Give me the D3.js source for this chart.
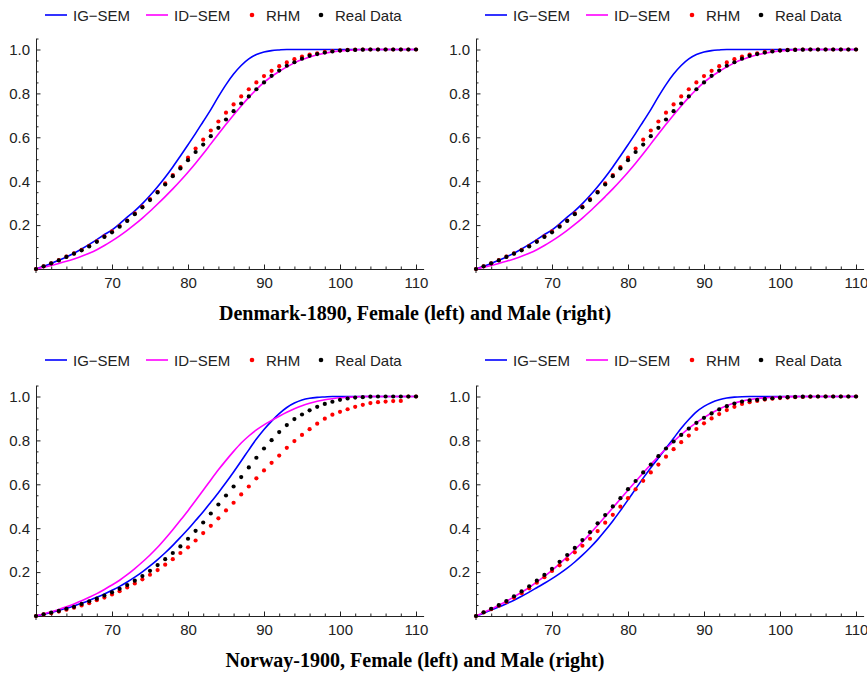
<!DOCTYPE html>
<html>
<head>
<meta charset="utf-8">
<script src="https://cdn.jsdelivr.net/npm/d3@7"></script>
<style>
  body { margin: 0; background: #fff; }
  svg { display: block; }
</style>
</head>
<body>
<svg id="chart" width="867" height="673"></svg>
<script>
// ages on the x axis, one point per year
const ages = d3.range(60, 111);
const xTicks = [70, 80, 90, 100, 110];
const yTicks = [0.2, 0.4, 0.6, 0.8, 1.0];
const legendNames = ["IG\u2212SEM", "ID\u2212SEM", "RHM", "Real Data"];
const captions = ["Denmark-1890, Female (left) and Male (right)", "Norway-1900, Female (left) and Male (right)"];

// Denmark 1890, female
const dkFemIG = [0, .012, .025, .040, .055, .072, .091, .112, .134, .157, .178, .206, .236, .265, .298, .335, .375, .418, .465, .515, .566, .618, .672, .726, .785, .84, .888, .927, .957, .977, .989, .995, .998, 1, 1, 1, 1, 1, 1, 1, 1, 1, 1, 1, 1, 1, 1, 1, 1, 1, 1];
const dkFemID = [0, .008, .016, .025, .035, .046, .058, .072, .088, .107, .128, .151, .176, .203, .232, .263, .296, .33, .365, .402, .441, .482, .525, .57, .615, .659, .702, .743, .782, .818, .85, .877, .90, .921, .939, .954, .966, .976, .983, .989, .993, .996, .998, 1, 1, 1, 1, 1, 1, 1, 1];
const dkFemRHM = [0, .012, .026, .040, .056, .071, .087, .105, .126, .149, .171, .196, .221, .253, .284, .318, .352, .390, .428, .464, .507, .549, .589, .631, .672, .712, .750, .786, .819, .850, .879, .903, .924, .941, .956, .968, .977, .983, .989, .993, .996, .998, .999, 1, 1, 1, 1, 1, 1, 1, 1];
const dkFemReal = [0, .012, .026, .039, .055, .070, .085, .103, .124, .146, .167, .193, .219, .250, .281, .314, .349, .385, .423, .458, .496, .533, .567, .605, .643, .681, .719, .754, .786, .819, .850, .880, .904, .926, .942, .958, .971, .979, .986, .991, .995, .997, .998, .999, 1, 1, 1, 1, 1, 1, 1];

// Denmark 1890, male
const dkMaleIG = [0, .012, .025, .040, .055, .072, .091, .112, .134, .157, .178, .206, .236, .265, .298, .335, .375, .418, .465, .515, .566, .618, .672, .726, .785, .84, .888, .927, .957, .977, .989, .995, .998, 1, 1, 1, 1, 1, 1, 1, 1, 1, 1, 1, 1, 1, 1, 1, 1, 1, 1];
const dkMaleID = [0, .008, .016, .025, .035, .046, .058, .072, .088, .107, .128, .151, .176, .203, .232, .263, .296, .33, .365, .402, .441, .482, .525, .57, .615, .659, .702, .743, .782, .818, .85, .877, .90, .921, .939, .954, .966, .976, .983, .989, .993, .996, .998, 1, 1, 1, 1, 1, 1, 1, 1];
const dkMaleRHM = [0, .012, .026, .040, .056, .071, .087, .105, .126, .149, .171, .196, .221, .253, .284, .318, .352, .390, .428, .464, .507, .549, .589, .631, .672, .712, .750, .786, .819, .850, .879, .903, .924, .941, .956, .968, .977, .983, .989, .993, .996, .998, .999, 1, 1, 1, 1, 1, 1, 1, 1];
const dkMaleReal = [0, .012, .026, .039, .055, .070, .085, .103, .124, .146, .167, .193, .219, .250, .281, .314, .349, .385, .423, .458, .496, .533, .567, .605, .643, .681, .719, .754, .786, .819, .850, .880, .904, .926, .942, .958, .971, .979, .986, .991, .995, .997, .998, .999, 1, 1, 1, 1, 1, 1, 1];

// Norway 1900, female
const noFemIG = [0, .008, .016, .025, .035, .046, .058, .071, .085, .10, .117, .135, .155, .177, .201, .228, .257, .288, .322, .358, .395, .435, .475, .518, .562, .608, .656, .706, .757, .806, .85, .888, .922, .95, .97, .984, .992, .996, .998, 1, 1, 1, 1, 1, 1, 1, 1, 1, 1, 1, 1];
const noFemID = [0, .009, .019, .03, .042, .055, .069, .085, .102, .121, .141, .163, .188, .216, .246, .278, .313, .352, .393, .436, .48, .526, .573, .62, .666, .709, .75, .788, .82, .848, .871, .891, .91, .928, .944, .958, .969, .978, .985, .99, .994, .996, .998, 1, 1, 1, 1, 1, 1, 1, 1];
const noFemRHM = [0, .007, .013, .02, .029, .038, .048, .058, .072, .084, .098, .113, .130, .148, .167, .188, .209, .234, .259, .287, .313, .344, .378, .411, .445, .481, .516, .554, .590, .627, .663, .698, .731, .766, .797, .825, .851, .876, .899, .917, .930, .942, .953, .962, .970, .974, .977, .979, .980, 1, 1];
const noFemReal = [0, .008, .015, .023, .033, .042, .055, .067, .079, .093, .108, .124, .141, .161, .182, .206, .232, .259, .287, .317, .352, .388, .426, .467, .508, .549, .590, .633, .677, .721, .763, .801, .838, .870, .897, .918, .937, .953, .966, .976, .985, .991, .995, .997, .999, 1, 1, 1, 1, 1, 1];

// Norway 1900, male
const noMaleIG = [0, .013, .027, .041, .056, .072, .09, .109, .129, .149, .17, .193, .218, .246, .277, .311, .348, .389, .433, .48, .529, .579, .628, .675, .72, .765, .81, .855, .895, .93, .955, .973, .985, .993, .997, .999, 1, 1, 1, 1, 1, 1, 1, 1, 1, 1, 1, 1, 1, 1, 1];
const noMaleID = [0, .016, .032, .049, .067, .087, .108, .13, .155, .181, .208, .238, .269, .302, .337, .374, .413, .453, .493, .533, .573, .613, .652, .69, .727, .762, .795, .826, .855, .881, .904, .925, .943, .958, .97, .979, .986, .991, .994, .996, .998, .999, 1, 1, 1, 1, 1, 1, 1, 1, 1];
const noMaleRHM = [0, .016, .031, .047, .064, .083, .104, .126, .152, .177, .205, .231, .258, .29, .32, .352, .387, .425, .461, .498, .537, .577, .616, .654, .69, .726, .76, .792, .822, .852, .878, .9, .92, .938, .953, .966, .974, .98, .986, .99, .993, .995, .997, .998, .999, 1, 1, 1, 1, 1, 1];
const noMaleReal = [0, .017, .033, .05, .068, .09, .112, .135, .161, .187, .215, .247, .278, .31, .346, .382, .422, .46, .499, .537, .578, .615, .654, .69, .728, .763, .795, .825, .854, .88, .903, .923, .941, .956, .968, .977, .982, .985, .989, .992, .995, .997, .998, .999, 1, 1, 1, 1, 1, 1, 1];

const colors = ["#0000ff", "#ff00ff", "#ff0000", "#000000"];

const svg = d3.select("#chart");
const font = "'Liberation Sans', Arial, sans-serif";

const unitH = 219.5;
const panels = [
	{left: 36, base: 269, legendY: 15, data: [dkFemIG, dkFemID, dkFemRHM, dkFemReal]},
	{left: 476, base: 269, legendY: 15, data: [dkMaleIG, dkMaleID, dkMaleRHM, dkMaleReal]},
	{left: 36, base: 616, legendY: 360, data: [noFemIG, noFemID, noFemRHM, noFemReal]},
	{left: 476, base: 616, legendY: 360, data: [noMaleIG, noMaleID, noMaleRHM, noMaleReal]}
];

function drawPanel(p) {
	const g = svg.append("g");

	const x = d3.scaleLinear()
		.domain([60, 111])
		.range([p.left, p.left + 7.6 * 51]);
	const y = d3.scaleLinear()
		.domain([0, 1.05])
		.range([p.base, p.base - unitH * 1.05]);

	// minor ticks first, then the labelled axis on top
	const minorX = d3.range(62, 111, 2).filter(d => d % 10 != 0);
	const minorY = d3.range(1, 22).map(d => d * 0.05).filter(d => Math.abs(d * 5 - Math.round(d * 5)) > 1e-6);

	g.append("g")
		.attr("transform", `translate(0,${p.base})`)
		.call(d3.axisBottom(x).tickValues(minorX).tickSize(-2.5).tickFormat(""))
		.call(a => a.select(".domain").remove());
	g.append("g")
		.attr("transform", `translate(${p.left},0)`)
		.call(d3.axisLeft(y).tickValues(minorY).tickSize(-2.5).tickFormat(""))
		.call(a => a.select(".domain").remove());

	const xAxis = g.append("g")
		.attr("transform", `translate(0,${p.base})`)
		.call(d3.axisBottom(x).tickValues(xTicks).tickSize(-4.5).tickPadding(8).tickSizeOuter(0));
	const yAxis = g.append("g")
		.attr("transform", `translate(${p.left},0)`)
		.call(d3.axisLeft(y).tickValues(yTicks).tickSize(-4.5).tickPadding(6).tickFormat(d3.format(".1f")).tickSizeOuter(0));

	[xAxis, yAxis].forEach(a => {
		a.selectAll("text").attr("font-family", font).attr("font-size", 15).attr("fill", "#222");
		a.select(".domain").attr("stroke", "#222");
	});
	g.selectAll(".tick line").attr("stroke", "#222");

	// small extension of the y axis below the origin
	g.append("line")
		.attr("x1", p.left).attr("x2", p.left)
		.attr("y1", p.base).attr("y2", p.base + 4)
		.attr("stroke", "#222");

	const line = d3.line()
		.x((d, i) => x(ages[i]))
		.y(d => y(d))
		.curve(d3.curveMonotoneX);

	for (let k = 0; k < 2; k++) {
		g.append("path")
			.datum(p.data[k])
			.attr("d", line)
			.attr("fill", "none")
			.attr("stroke", colors[k])
			.attr("stroke-width", 1.6);
	}

	for (let k = 2; k < 4; k++) {
		g.selectAll(".dot" + k)
			.data(p.data[k])
			.join("circle")
			.attr("class", "dot" + k)
			.attr("cx", (d, i) => x(ages[i]))
			.attr("cy", d => y(d))
			.attr("r", 2.1)
			.attr("fill", colors[k]);
	}

	// legend
	const lg = g.append("g").attr("transform", `translate(${p.left},${p.legendY})`);
	const itemX = [9, 110, 216, 285];
	legendNames.forEach((name, k) => {
		if (k < 2) {
			lg.append("line")
				.attr("x1", itemX[k]).attr("x2", itemX[k] + 22)
				.attr("y1", 0).attr("y2", 0)
				.attr("stroke", colors[k])
				.attr("stroke-width", 1.6);
		} else {
			lg.append("circle")
				.attr("cx", itemX[k]).attr("cy", 0)
				.attr("r", 2.3)
				.attr("fill", colors[k]);
		}
		lg.append("text")
			.attr("x", k < 2 ? itemX[k] + 28 : itemX[k] + 14)
			.attr("y", 5.5)
			.attr("font-family", font)
			.attr("font-size", 15)
			.attr("fill", "#222")
			.text(name);
	});
}

panels.forEach(drawPanel);

svg.selectAll(".caption")
	.data(captions)
	.join("text")
	.attr("class", "caption")
	.attr("x", 415)
	.attr("y", (d, i) => i == 0 ? 320 : 667)
	.attr("text-anchor", "middle")
	.attr("font-family", "'Liberation Serif', 'Times New Roman', serif")
	.attr("font-weight", "bold")
	.attr("font-size", 20)
	.text(d => d);
</script>
</body>
</html>
